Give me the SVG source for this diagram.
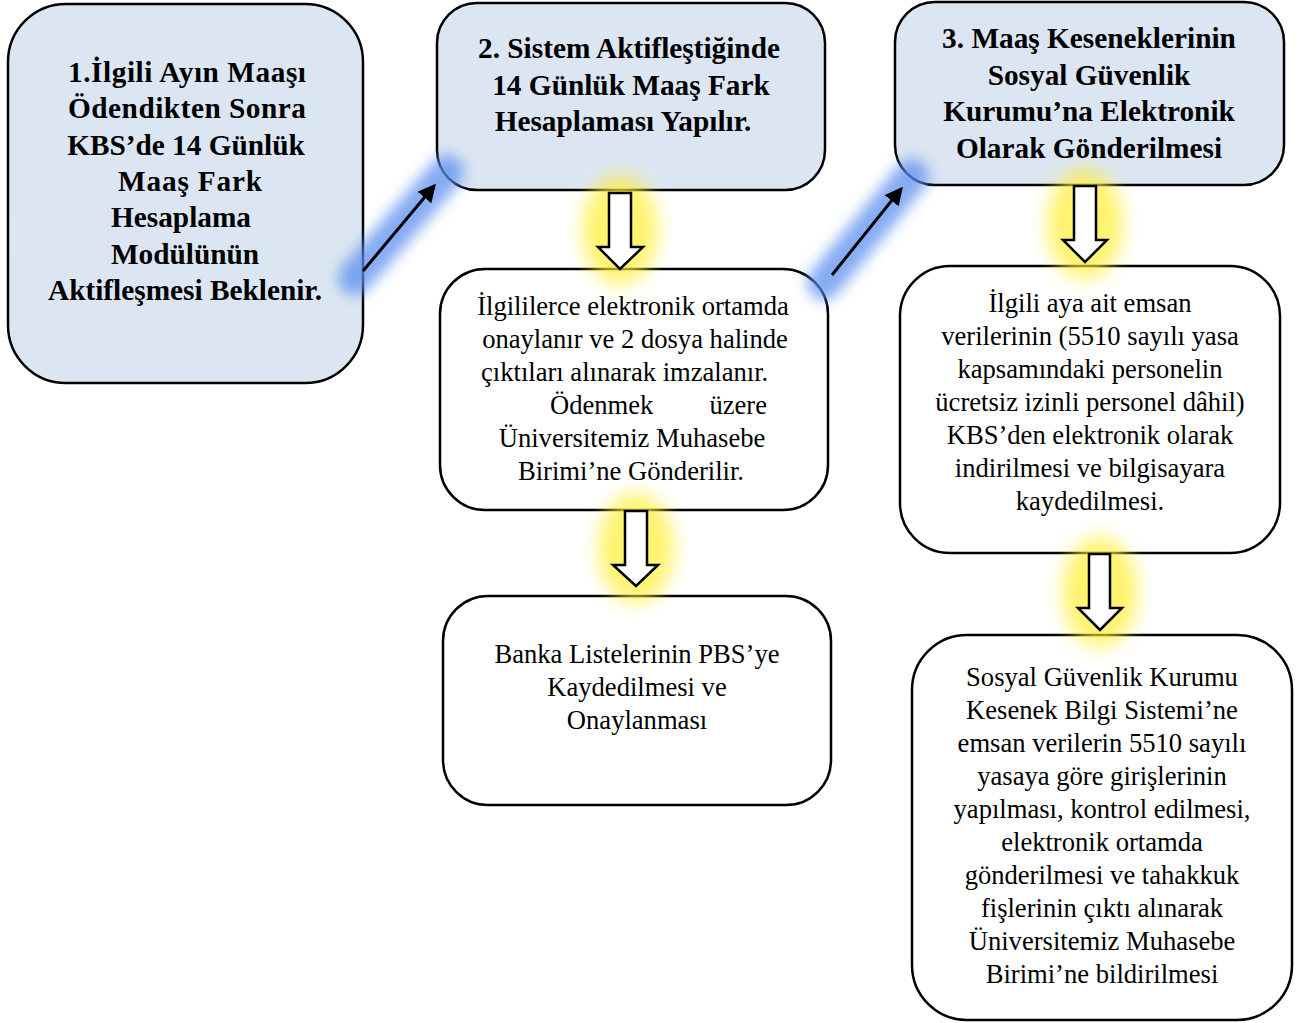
<svg xmlns="http://www.w3.org/2000/svg" width="1312" height="1023" viewBox="0 0 1312 1023">
<defs>
<style>
.box{stroke:#000;stroke-width:2.5}
.blue{fill:#dce6f2}
.white{fill:#fff}
.b{font-weight:bold;font-size:29.3px;fill:#000;text-anchor:middle}
.r{font-size:26.6px;fill:#000;text-anchor:middle}
.blk{fill:#fff;stroke:#000;stroke-width:2.5;stroke-linejoin:miter}
.conn{stroke:#000;stroke-width:3;fill:none}
.bglow{stroke:#5b8ff0;stroke-width:34;stroke-linecap:round;opacity:0.75;filter:url(#blur)}
.yglow{fill:#ffee33;opacity:0.7;filter:url(#blurY)}
</style>
<filter id="blur" x="-50%" y="-50%" width="200%" height="200%"><feGaussianBlur stdDeviation="7"/></filter>
<filter id="blurY" x="-50%" y="-50%" width="200%" height="200%"><feGaussianBlur stdDeviation="9"/></filter>
<marker id="ah" markerWidth="6" markerHeight="6" refX="5" refY="3" orient="auto" markerUnits="strokeWidth">
<path d="M0,0 L6,3 L0,6 Z" fill="#000"/>
</marker>
</defs>

<g font-family="Liberation Serif, Tinos, DejaVu Serif, serif">
<g id="n1">
<rect class="box blue" x="8" y="4" width="355" height="379" rx="58"/>
<text class="b" x="187" y="82" textLength="238" lengthAdjust="spacing">1.İlgili Ayın Maaşı</text>
<text class="b" x="187" y="118" textLength="238" lengthAdjust="spacing">Ödendikten Sonra</text>
<text class="b" x="186" y="155">KBS’de 14 Günlük</text>
<text class="b" x="190" y="191" textLength="144" lengthAdjust="spacing">Maaş Fark</text>
<text class="b" x="181" y="227">Hesaplama</text>
<text class="b" x="185" y="264">Modülünün</text>
<text class="b" x="185" y="300">Aktifleşmesi Beklenir.</text>
</g>

<g id="n2">
<rect class="box blue" x="437" y="3" width="388" height="187" rx="40"/>
<text class="b" x="629" y="58">2. Sistem Aktifleştiğinde</text>
<text class="b" x="631" y="95">14 Günlük Maaş Fark</text>
<text class="b" x="623" y="131">Hesaplaması Yapılır.</text>
</g>

<g id="n3">
<rect class="box blue" x="895" y="2" width="389" height="183" rx="40"/>
<text class="b" x="1089" y="48">3. Maaş Keseneklerinin</text>
<text class="b" x="1089" y="85">Sosyal Güvenlik</text>
<text class="b" x="1089" y="121">Kurumu’na Elektronik</text>
<text class="b" x="1089" y="158">Olarak Gönderilmesi</text>
</g>

<g id="n4">
<rect class="box white" x="440" y="269" width="388" height="241" rx="45"/>
<text class="r" x="633" y="315">İlgililerce elektronik ortamda</text>
<text class="r" x="635" y="348">onaylanır ve 2 dosya halinde</text>
<text class="r" x="481" y="381" style="text-anchor:start">çıktıları alınarak imzalanır.</text>
<text class="r" x="550" y="414" style="text-anchor:start">Ödenmek</text>
<text class="r" x="767" y="414" style="text-anchor:end">üzere</text>
<text class="r" x="632" y="447">Üniversitemiz Muhasebe</text>
<text class="r" x="631" y="480">Birimi’ne Gönderilir.</text>
</g>

<g id="n5">
<rect class="box white" x="443" y="596" width="388" height="209" rx="45"/>
<text class="r" x="637" y="663">Banka Listelerinin PBS’ye</text>
<text class="r" x="637" y="696">Kaydedilmesi ve</text>
<text class="r" x="637" y="729">Onaylanması</text>
</g>

<g id="n6">
<rect class="box white" x="900" y="266" width="380" height="287" rx="50"/>
<text class="r" x="1090" y="312">İlgili aya ait emsan</text>
<text class="r" x="1090" y="345">verilerinin (5510 sayılı yasa</text>
<text class="r" x="1090" y="378">kapsamındaki personelin</text>
<text class="r" x="1090" y="411">ücretsiz izinli personel dâhil)</text>
<text class="r" x="1090" y="444">KBS’den elektronik olarak</text>
<text class="r" x="1090" y="477">indirilmesi ve bilgisayara</text>
<text class="r" x="1090" y="510">kaydedilmesi.</text>
</g>

<g id="n7">
<rect class="box white" x="912" y="635" width="380" height="385" rx="55"/>
<text class="r" x="1102" y="686">Sosyal Güvenlik Kurumu</text>
<text class="r" x="1102" y="719">Kesenek Bilgi Sistemi’ne</text>
<text class="r" x="1102" y="752">emsan verilerin 5510 sayılı</text>
<text class="r" x="1102" y="785">yasaya göre girişlerinin</text>
<text class="r" x="1102" y="818">yapılması, kontrol edilmesi,</text>
<text class="r" x="1102" y="851">elektronik ortamda</text>
<text class="r" x="1102" y="884">gönderilmesi ve tahakkuk</text>
<text class="r" x="1102" y="917">fişlerinin çıktı alınarak</text>
<text class="r" x="1102" y="950">Üniversitemiz Muhasebe</text>
<text class="r" x="1102" y="983">Birimi’ne bildirilmesi</text>
</g>
</g>

<g id="connectors">
<line class="bglow" x1="355" y1="278" x2="447" y2="172"/>
<line class="bglow" x1="824" y1="283" x2="912" y2="176"/>
<ellipse class="yglow" cx="620" cy="230" rx="38" ry="55"/>
<ellipse class="yglow" cx="636" cy="548" rx="38" ry="55"/>
<ellipse class="yglow" cx="1085" cy="224" rx="38" ry="55"/>
<ellipse class="yglow" cx="1100" cy="592" rx="38" ry="55"/>
<line class="conn" x1="363" y1="271" x2="434" y2="186" marker-end="url(#ah)"/>
<line class="conn" x1="832" y1="275" x2="901" y2="189" marker-end="url(#ah)"/>
<path class="blk" d="M609,193 H631 V247 H643 L620,269 L598,247 H609 Z"/>
<path class="blk" d="M625,511 H647 V565 H658 L636,586 L613,565 H625 Z"/>
<path class="blk" d="M1074,186 H1096 V240 H1107 L1085,262 L1063,240 H1074 Z"/>
<path class="blk" d="M1089,554 H1110 V608 H1122 L1100,630 L1078,608 H1089 Z"/>
</g>
</svg>
